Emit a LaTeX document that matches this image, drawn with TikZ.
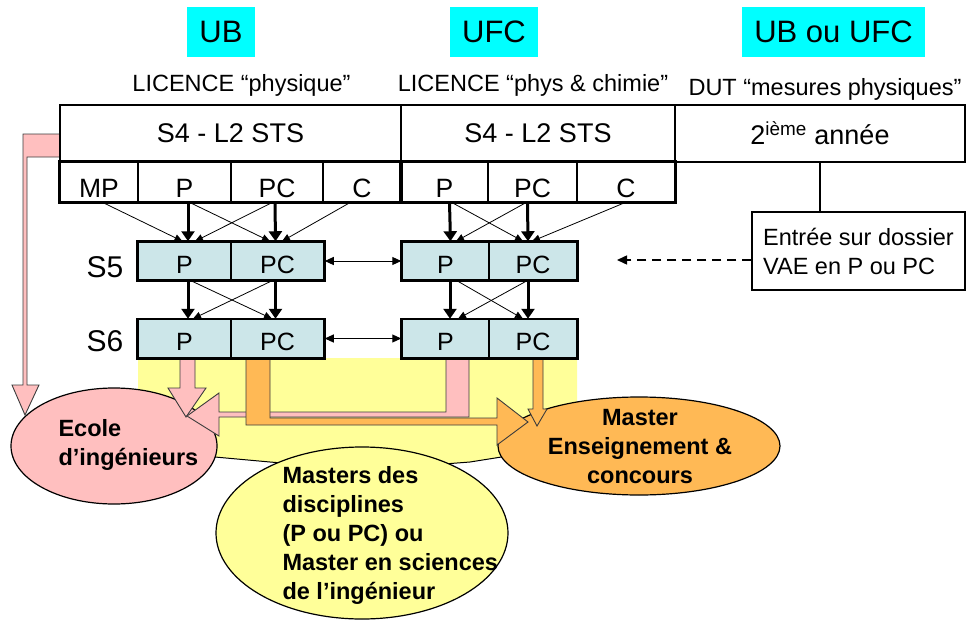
\documentclass[tikz,border=0pt]{standalone}
\usepackage{fontspec}
\setmainfont{Liberation Sans}
\usetikzlibrary{shapes.geometric,arrows.meta}
\definecolor{cyanbox}{RGB}{0,255,255}
\definecolor{cellblue}{RGB}{204,230,233}
\definecolor{pinkf}{RGB}{255,191,191}
\definecolor{orangef}{RGB}{255,185,85}
\definecolor{yellowf}{RGB}{255,255,153}
\definecolor{edgegray}{RGB}{60,60,60}
\tikzset{
  hdr/.style={draw,line width=2.5pt,minimum height=57pt,inner sep=0pt,font=\fontsize{27}{32}\selectfont},
  sub/.style={draw,line width=1.2pt,minimum height=40pt,inner sep=0pt,text height=31pt,text depth=0pt,font=\fontsize{26.5}{31}\selectfont},
  sem/.style={draw,fill=cellblue,line width=1.5pt,minimum height=38pt,inner sep=0pt,text height=24pt,text depth=0pt,font=\fontsize{25}{30}\selectfont},
  uni/.style={fill=cyanbox,minimum height=50pt,inner sep=0pt,font=\fontsize{31}{36}\selectfont},
  captxt/.style={anchor=base,font=\fontsize{23.5}{29}\selectfont},
  oval/.style={ellipse,draw,line width=1.2pt,inner sep=0pt},
  bold/.style={font=\fontsize{23.5}{29}\selectfont\bfseries,align=left},
  blockarrow/.style={draw=edgegray,line width=0.9pt,line join=miter},
  thk/.style={line width=3pt,-{Triangle[width=13pt,length=10pt]}},
  thn/.style={line width=0.8pt,-{Triangle[width=7pt,length=8pt]}},
}
\begin{document}
\begin{tikzpicture}[x=1pt,y=-1pt]
\useasboundingbox (0,0) rectangle (967,621);

% yellow funnel behind the outputs
\fill[yellowf] (138,358) -- (577,358) -- (577,445) -- (470,462) -- (367,470)
  -- (270,462) -- (138,450) -- cycle;
\draw[line width=1pt] (138,450) -- (270,462) -- (367,470) -- (470,462) -- (577,445);

% outputs
\node[oval,fill=yellowf,minimum width=292pt,minimum height=172pt] (masters) at (362,533) {};
\node[bold,anchor=west] (masterstxt) at (279,535)
  {Masters des\\disciplines\\(P ou PC) ou\\Master en sciences\\de l’ingénieur};
\node[oval,fill=pinkf,minimum width=206pt,minimum height=116pt] (ecole) at (114,446) {};
\node[bold,anchor=west] (ecoletxt) at (55,445) {Ecole\\d’ingénieurs};
\node[oval,fill=orangef,minimum width=282pt,minimum height=98pt] (menseign) at (639,446) {};
\node[bold,align=center] (menseigntxt) at (640,447) {Master\\Enseignement \&\\concours};

% block arrows
\draw[blockarrow,fill=pinkf] (60,134) -- (23,134) -- (23,385) -- (12,385) -- (25,415)
  -- (39,385) -- (27,385) -- (27,157) -- (60,157) -- cycle;
\draw[blockarrow,fill=pinkf] (180,358) -- (180,388) -- (168,388) -- (186,417)
  -- (206,388) -- (195,388) -- (195,358) -- cycle;
\draw[blockarrow,fill=pinkf] (446,358) -- (469,358) -- (469,417) -- (219,417) -- (219,436)
  -- (187,416) -- (219,393) -- (219,412) -- (446,412) -- cycle;
\draw[blockarrow,fill=orangef] (246,358) -- (270,358) -- (270,418) -- (497,418) -- (497,398)
  -- (528,422) -- (497,445) -- (497,425) -- (246,425) -- cycle;
\draw[blockarrow,fill=orangef] (533,358) -- (543,358) -- (543,409) -- (547,409) -- (537,426)
  -- (528,409) -- (533,409) -- cycle;

% universities
\node[uni,minimum width=68pt] (ub) at (221,32) {UB};
\node[uni,minimum width=88pt] (ufc) at (494,32) {UFC};
\node[uni,minimum width=183pt] (ubufc) at (833.5,32) {UB ou UFC};
\node[captxt] (licphys) at (241.5,91) {LICENCE “physique”};
\node[captxt] (licchim) at (533,91) {LICENCE “phys \& chimie”};
\node[captxt] (dut) at (825,95) {DUT “mesures physiques”};

% second year
\node[hdr,minimum width=341pt] (ubhead) at (230.5,133.5) {S4 - L2 STS};
\node[hdr,minimum width=274pt] (ufchead) at (538,133.5) {S4 - L2 STS};
\node[hdr,minimum width=290pt] (duthead) at (820,133.5) {2\textsuperscript{ième} année};
\node[sub,minimum width=78pt] (mp) at (99,182) {MP};
\node[sub,minimum width=93pt] (p1) at (184.5,182) {P};
\node[sub,minimum width=92pt] (pc1) at (277,182) {PC};
\node[sub,minimum width=78pt] (c1) at (362,182) {C};
\node[sub,minimum width=87pt] (p2) at (444.5,182) {P};
\node[sub,minimum width=89pt] (pc2) at (532.5,182) {PC};
\node[sub,minimum width=98pt] (c2) at (626,182) {C};
\draw[line width=2.5pt] (mp.north west) rectangle (c1.south east);
\draw[line width=2.5pt] (p2.north west) rectangle (c2.south east);

% S5 and S6
\node[font=\fontsize{30}{34}\selectfont] (s5) at (105,267) {S5};
\node[font=\fontsize{30}{34}\selectfont] (s6) at (105,341) {S6};
\node[sem,minimum width=93pt] (s5p1) at (184.5,261) {P};
\node[sem,minimum width=93pt] (s5pc1) at (277.5,261) {PC};
\node[sem,minimum width=87pt] (s5p2) at (445.5,261) {P};
\node[sem,minimum width=88pt] (s5pc2) at (533,261) {PC};
\node[sem,minimum width=93pt] (s6p1) at (184.5,338.5) {P};
\node[sem,minimum width=93pt] (s6pc1) at (277.5,338.5) {PC};
\node[sem,minimum width=87pt] (s6p2) at (445.5,338.5) {P};
\node[sem,minimum width=88pt] (s6pc2) at (533,338.5) {PC};
\draw[line width=2.5pt] (s5p1.north west) rectangle (s5pc1.south east);
\draw[line width=2.5pt] (s5p2.north west) rectangle (s5pc2.south east);
\draw[line width=2.5pt] (s6p1.north west) rectangle (s6pc1.south east);
\draw[line width=2.5pt] (s6p2.north west) rectangle (s6pc2.south east);

% main paths
\foreach \a/\b/\s in {p1/s5p1/3.5, pc1/s5pc1/-2, p2/s5p2/5, pc2/s5pc2/-5,
  s5p1/s6p1/3.5, s5pc1/s6pc1/-2, s5p2/s6p2/4.5, s5pc2/s6pc2/-5}
  \draw[thk] ([xshift=\s pt]\a.south) -- ([xshift=\s pt]\b.north);

% crossings
\draw[thn] ([xshift=4pt]mp.south) -- ([xshift=-2pt]s5p1.north);
\draw[thn] ([xshift=5.5pt]p1.south) -- ([xshift=-7.5pt]s5pc1.north);
\draw[thn] ([xshift=-5pt]pc1.south) -- ([xshift=10.5pt]s5p1.north);
\draw[thn] ([xshift=-12pt]c1.south) -- ([xshift=4.5pt]s5pc1.north);
\draw[thn] ([xshift=6.5pt]s5p1.south) -- ([xshift=-5.5pt]s6pc1.north);
\draw[thn] ([xshift=-5.5pt]s5pc1.south) -- ([xshift=8.5pt]s6p1.north);
\draw[thn] ([xshift=7.5pt]p2.south) -- ([xshift=-10pt]s5pc2.north);
\draw[thn] ([xshift=-6.5pt]pc2.south) -- ([xshift=10.5pt]s5p2.north);
\draw[thn] ([xshift=-1pt]c2.south) -- ([xshift=-1pt]s5pc2.north);
\draw[thn] ([xshift=11.5pt]s5p2.south) -- ([xshift=-10pt]s6pc2.north);
\draw[thn] ([xshift=-6pt]s5pc2.south) -- ([xshift=12.5pt]s6p2.north);

% exchanges UB <-> UFC
\draw[line width=1pt,{Triangle[width=8pt,length=9pt]}-{Triangle[width=8pt,length=9pt]}]
  (s5pc1.east) -- (s5p2.west);
\draw[line width=1pt,{Triangle[width=8pt,length=9pt]}-{Triangle[width=8pt,length=9pt]}]
  (s6pc1.east) -- (s6p2.west);

% DUT entry
\node[draw,line width=1.3pt,minimum width=213pt,minimum height=78pt,align=left,
  font=\fontsize{23.5}{29}\selectfont] (vae) at (858.5,251)
  {Entrée sur dossier\\VAE en P ou PC};
\draw[line width=1.5pt] (duthead.south) -- (duthead.south |- vae.north);
\coordinate (vaeend) at (617,260);
\draw[line width=1.5pt,dash pattern=on 9pt off 6pt,-{Triangle[width=9pt,length=10pt]}]
  ([yshift=-9pt]vae.west) -- (vaeend);

\end{tikzpicture}
\end{document}
